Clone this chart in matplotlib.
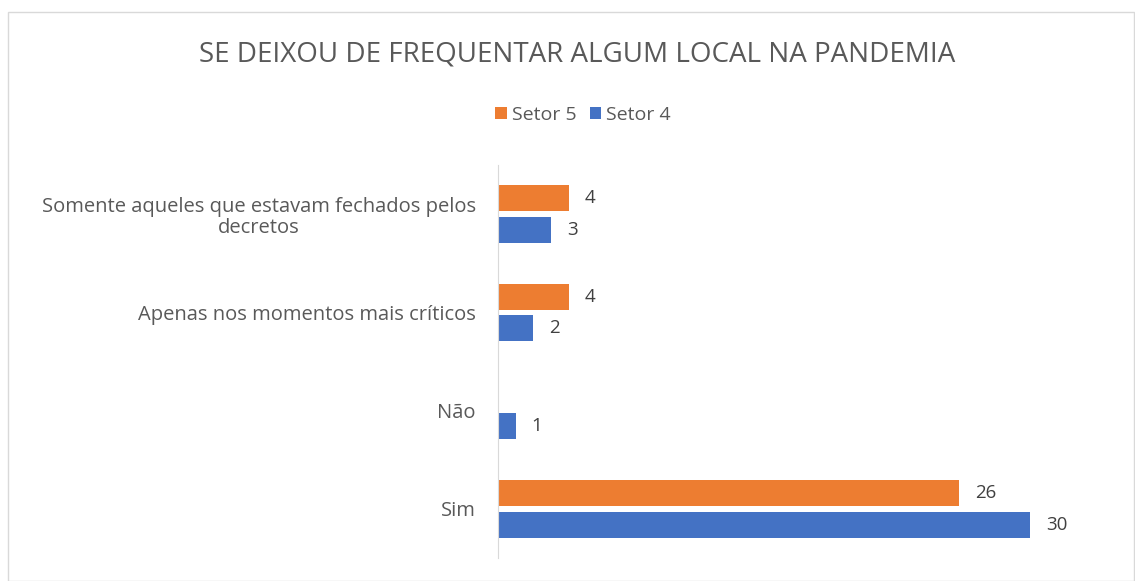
import matplotlib.pyplot as plt
import matplotlib.patches as patches
import numpy as np

categories = ['Sim', 'Não', 'Apenas nos momentos mais críticos',
              'Somente aqueles que estavam fechados pelos\ndecretos']
setor5 = [26, 0, 4, 4]
setor4 = [30, 1, 2, 3]

orange = '#ED7D31'
blue = '#4472C4'
text_color = '#595959'

plt.rcParams['font.family'] = ['Open Sans', 'DejaVu Sans']

fig = plt.figure(figsize=(11.35, 5.81), dpi=100)
ax = fig.add_axes([498 / 1135, 23 / 581, 621 / 1135, 393 / 581])

y = np.arange(len(categories))
h = 0.265
off = 0.16
b5 = ax.barh(y + off, setor5, height=h, color=orange, label='Setor 5')
b4 = ax.barh(y - off, setor4, height=h, color=blue, label='Setor 4')

for bars, vals in ((b5, setor5), (b4, setor4)):
    for bar, v in zip(bars, vals):
        if v == 0:
            continue
        ax.text(bar.get_width() + 0.9, bar.get_y() + bar.get_height() / 2, str(v),
                va='center', ha='left', fontsize=13.5, color='#404040')

ax.set_xlim(0, 35)
ax.set_ylim(-0.5, 3.5)
ax.set_yticks(y)
ax.set_yticklabels(categories, fontsize=14.5, color=text_color, ha='right',
                   multialignment='center', linespacing=1.1)
ax.tick_params(axis='y', length=0, pad=16)
ax.set_xticks([])
for s in ('top', 'right', 'bottom'):
    ax.spines[s].set_visible(False)
ax.spines['left'].set_color('#D9D9D9')

fig.text(577 / 1135, 1 - 54 / 581, 'SE DEIXOU DE FREQUENTAR ALGUM LOCAL NA PANDEMIA',
         ha='center', va='center', fontsize=20, color=text_color)
fig.legend(handles=[b5, b4], loc='center', bbox_to_anchor=(583 / 1135, 1 - 115 / 581),
           ncol=2, frameon=False, fontsize=14, handlelength=0.6, handleheight=0.6,
           handletextpad=0.25, columnspacing=0.7, labelcolor=text_color)

fig.patches.append(patches.Rectangle((8 / 1135, 0.5 / 581), 1126 / 1135, 569 / 581,
                                     transform=fig.transFigure, fill=False,
                                     edgecolor='#D9D9D9', linewidth=1))

fig.savefig('out.png', dpi=100)
